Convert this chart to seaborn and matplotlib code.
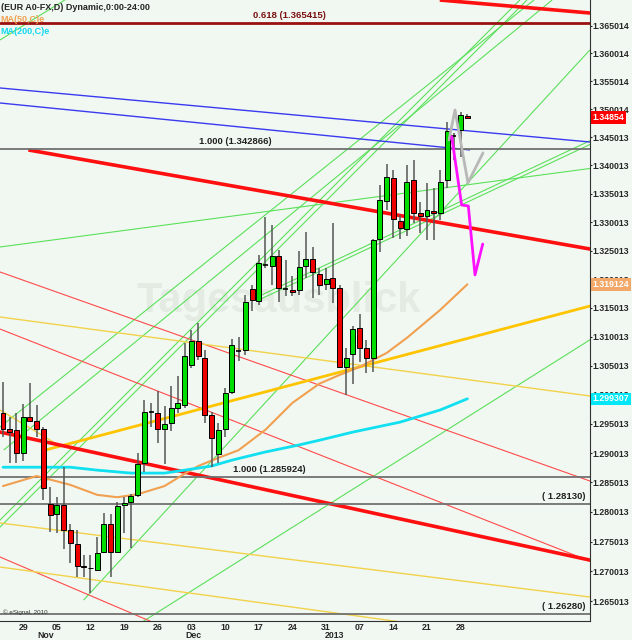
import numpy as np
import pandas as pd
import seaborn as sns
import matplotlib.pyplot as plt
from matplotlib.ticker import FixedLocator, FixedFormatter, NullLocator

# EUR A0-FX daily bars, 24 Oct 2012 .. 29 Jan 2013
dates = pd.bdate_range('2012-10-24', periods=70)

opens = [1.2969, 1.2941, 1.2940, 1.2901, 1.2961, 1.2955, 1.2941, 1.2813, 1.2796, 1.2812,
         1.2770, 1.2746, 1.2709, 1.2706, 1.2703, 1.2732, 1.2779, 1.2733, 1.2812, 1.2817,
         1.2828, 1.2884, 1.2970, 1.2969, 1.2942, 1.2952, 1.2977, 1.2982, 1.3051, 1.3093,
         1.3064, 1.2965, 1.2898, 1.2942, 1.3005, 1.3075, 1.3077, 1.3183, 1.3162, 1.3225,
         1.3223, 1.3241, 1.3183, 1.3181, 1.3181, 1.3224, 1.3235, 1.3209, 1.3192, 1.3203,
         1.3185, 1.3048, 1.3070, 1.3115, 1.3080, 1.3064, 1.3271, 1.3337, 1.3378, 1.3303,
         1.3288, 1.3374, 1.3316, 1.3311, 1.3320, 1.3317, 1.3374, 1.3452, 1.3464, 1.3488]
highs = [1.3022, 1.2962, 1.2968, 1.2984, 1.3020, 1.2982, 1.2945, 1.2842, 1.2826, 1.2877,
         1.2780, 1.2770, 1.2727, 1.2727, 1.2758, 1.2798, 1.2796, 1.2817, 1.2826, 1.2830,
         1.2900, 1.2991, 1.2985, 1.3007, 1.2981, 1.3015, 1.3032, 1.3090, 1.3112, 1.3124,
         1.3078, 1.2971, 1.2951, 1.3011, 1.3097, 1.3100, 1.3173, 1.3190, 1.3242, 1.3309,
         1.3295, 1.3251, 1.3234, 1.3206, 1.3250, 1.3283, 1.3256, 1.3220, 1.3220, 1.3299,
         1.3190, 1.3080, 1.3119, 1.3139, 1.3094, 1.3270, 1.3366, 1.3403, 1.3392, 1.3313,
         1.3401, 1.3409, 1.3336, 1.3369, 1.3360, 1.3392, 1.3478, 1.3457, 1.3496, 1.3492]
lows = [1.2928, 1.2884, 1.2884, 1.2887, 1.2954, 1.2928, 1.2821, 1.2767, 1.2764, 1.2737,
        1.2714, 1.2691, 1.2691, 1.2664, 1.2702, 1.2730, 1.2691, 1.2732, 1.2764, 1.2739,
        1.2826, 1.2868, 1.2945, 1.2917, 1.2881, 1.2937, 1.2968, 1.2977, 1.3046, 1.3060,
        1.2951, 1.2877, 1.2883, 1.2928, 1.3002, 1.3058, 1.3069, 1.3144, 1.3155, 1.3220,
        1.3190, 1.3161, 1.3171, 1.3171, 1.3173, 1.3202, 1.3167, 1.3173, 1.3181, 1.3158,
        1.3046, 1.2999, 1.3018, 1.3057, 1.3038, 1.3040, 1.3248, 1.3322, 1.3272, 1.3270,
        1.3275, 1.3299, 1.3281, 1.3269, 1.3269, 1.3304, 1.3360, 1.3410, 1.3416, 1.3484]
closes = [1.2942, 1.2936, 1.2900, 1.2961, 1.2955, 1.2941, 1.2841, 1.2795, 1.2812, 1.2770,
          1.2747, 1.2709, 1.2708, 1.2705, 1.2731, 1.2779, 1.2733, 1.2810, 1.2816, 1.2827,
          1.2881, 1.2970, 1.2970, 1.2941, 1.2950, 1.2977, 1.2985, 1.3067, 1.3092, 1.3066,
          1.2965, 1.2925, 1.2940, 1.3003, 1.3086, 1.3075, 1.3160, 1.3164, 1.3228, 1.3225,
          1.3241, 1.3184, 1.3183, 1.3178, 1.3222, 1.3235, 1.3213, 1.3190, 1.3201, 1.3184,
          1.3047, 1.3064, 1.3113, 1.3081, 1.3064, 1.3269, 1.3339, 1.3380, 1.3305, 1.3289,
          1.3371, 1.3317, 1.3311, 1.3322, 1.3316, 1.3371, 1.3461, 1.3452, 1.3490, 1.3485]

# moving averages read at some bars (bar index, value)
ma50_idx = [0, 5, 10, 14, 17, 20, 24, 27, 29, 32, 35, 39, 43, 47, 50, 53, 57, 60, 65, 69]
ma50_val = [1.2844, 1.2861, 1.2846, 1.2829, 1.2825, 1.2830, 1.2844, 1.2865, 1.2878, 1.2892,
            1.2905, 1.2940, 1.2986, 1.3019, 1.3034, 1.3048, 1.3072, 1.3098, 1.3147, 1.319124]
ma200_idx = [0, 5, 10, 14, 19, 24, 27, 31, 34, 39, 44, 47, 52, 59, 65, 69]
ma200_val = [1.2876, 1.2876, 1.2876, 1.2871, 1.2866, 1.2866, 1.2871, 1.2878, 1.2888, 1.2902,
             1.2914, 1.2922, 1.2936, 1.2953, 1.2974, 1.299307]

# drawn trend lines: (bar0, price0, bar1, price1)
red_thick = [(64.9, 1.36966, 150.7, 1.36064), (3.77, 1.34277, 88.05, 1.32512),
             (-22.36, 1.29909, 114.56, 1.26518)]
red_thin = [(-11.41, 1.31639, 101.9, 1.26518), (-9.66, 1.32512, 95.2, 1.28202),
            (-2.88, 1.27358, 31.92, 1.25684)]
green_lines = [(11.98, 1.26518, 87.2, 1.36064), (-12.33, 1.26518, 76.8, 1.36966),
               (-11.29, 1.26518, 77.86, 1.36966), (36.85, 1.31639, 100.1, 1.35167),
               (38.0, 1.31639, 101.3, 1.35167), (-3.8, 1.32512, 107.9, 1.34277),
               (-2.87, 1.36064, 21.25, 1.37875), (-4.72, 1.29053, 78.9, 1.36966),
               (0.1, 1.29053, 81.6, 1.36966), (14.06, 1.25684, 96.6, 1.31639)]
blue_lines = [(-62.1, 1.36064, 100.1, 1.34277), (-4.9, 1.35167, 69.4, 1.34277)]
gold_thick = [(6.3, 1.29053, 90.6, 1.31639)]
gold_thin = [(-19.3, 1.31639, 91.7, 1.29909), (-0.45, 1.29738, 8.47, 1.29121),
             (-27.6, 1.28202, 90.8, 1.26518), (-18.9, 1.27358, 89.6, 1.25684)]

# projections drawn by the analyst
gray_proj_x = [66.27, 67.16, 69.09, 71.32]
gray_proj_y = [1.34455, 1.34989, 1.33693, 1.34224]
pink_proj_x = [66.67, 68.15, 69.14, 70.13, 71.28]
pink_proj_y = [1.34514, 1.33303, 1.33286, 1.32076, 1.32617]

# horizontal levels
levels = [1.365415, 1.342866, 1.285924, 1.28130, 1.26280]
level_text = ['0.618 (1.365415)', '1.000 (1.342866)', '1.000 (1.285924)', '( 1.28130)', '( 1.26280)']

ytick_vals = [1.365014, 1.360014, 1.355014, 1.350014, 1.345013, 1.340013, 1.335013, 1.330013,
              1.325013, 1.320013, 1.315013, 1.310013, 1.305013, 1.300013, 1.295013, 1.290013,
              1.285013, 1.280013, 1.275013, 1.270013, 1.265013]

bg = '#F1F8F1'
sns.set_style('white', {'axes.facecolor': bg, 'figure.facecolor': bg})
plt.rcParams['font.family'] = ['Liberation Sans', 'DejaVu Sans']

fig = plt.figure(figsize=(6.32, 6.40), dpi=100)
ax = fig.add_axes([0, 19 / 640, 590 / 632, 621 / 640])
ax.set_facecolor(bg)

x = np.arange(len(dates))
o = np.array(opens); c = np.array(closes)

# watermark
ax.text(41, 1.3162, 'Tagesausblick', fontsize=30, fontweight='bold', color='#E3EBE3',
        ha='center', va='center', zorder=0)

def draw_lines(lines, color, lw, z=1):
    for x0, p0, x1, p1 in lines:
        ax.plot([x0, x1], [p0, p1], color=color, lw=lw, zorder=z, solid_capstyle='butt')

draw_lines(green_lines, '#5BE05B', 0.8)
draw_lines(red_thin, '#FF4A4A', 0.8)
draw_lines(gold_thin, '#F2D24A', 1.0)
draw_lines(blue_lines, '#3A3AF0', 1.0)
draw_lines(gold_thick, '#FFC400', 2.0)
draw_lines(red_thick, '#FF1010', 2.6)

for lv, lt in zip(levels, level_text):
    if lt.startswith('0.618'):
        ax.axhline(lv, color='#9A1010', lw=2, zorder=1)
        ax.text(42.6, lv * 1.0004, lt, ha='center', va='bottom', fontsize=6.8, color='#7A1010', fontweight='bold')
    else:
        ax.axhline(lv, color='#707070', lw=1.3, zorder=1)
        if lt.startswith('1.000'):
            xpos = 34.5 if lv > 1.3 else 39.5
            ax.text(xpos, lv * 1.0004, lt, ha='center', va='bottom', fontsize=6.8, color='#202020', fontweight='bold')
        else:
            ax.text(86.5, lv * 1.0004, lt, ha='right', va='bottom', fontsize=6.8, color='#202020', fontweight='bold')

# moving averages
sns.lineplot(x=ma50_idx, y=ma50_val, color='#F0A050', lw=1.5, ax=ax, zorder=2)
sns.lineplot(x=ma200_idx, y=ma200_val, color='#10E0F0', lw=2, ax=ax, zorder=2)

# candles
ax.vlines(x, lows, highs, color='#555555', lw=1.1, zorder=3)
up = c > o
down = c < o
flat = c == o
ax.bar(x[up], (c - o)[up], bottom=o[up], width=0.74, color='#00DD00', edgecolor='black', lw=0.7, zorder=4)
ax.bar(x[down], (o - c)[down], bottom=c[down], width=0.74, color='#EE0000', edgecolor='black', lw=0.7, zorder=4)
ax.hlines(c[flat], x[flat] - 0.37, x[flat] + 0.37, color='black', lw=1.2, zorder=4)

ax.plot(gray_proj_x, gray_proj_y, color='#B8B8B8', lw=2, zorder=5)
ax.plot(pink_proj_x, pink_proj_y, color='#FF10FF', lw=2, zorder=5)

ax.set_yscale('log')
ax.set_ylim(1.26168, 1.369661)
ax.set_xlim(-0.446, 87.22)
ax.yaxis.set_major_locator(FixedLocator(ytick_vals))
ax.yaxis.set_major_formatter(FixedFormatter(['%.6f' % v for v in ytick_vals]))
ax.yaxis.set_minor_locator(NullLocator())
ax.yaxis.tick_right()
ax.tick_params(axis='y', length=1.5, pad=0.5, labelsize=6.3, width=0.8)
for t in ax.get_yticklabels():
    t.set_fontweight('bold')

mondays = [i for i, d in enumerate(dates) if d.weekday() == 0]
ax.set_xticks(mondays)
ax.set_xticklabels([dates[i].strftime('%d') for i in mondays], fontsize=6.3, fontweight='bold')
ax.tick_params(axis='x', length=0, pad=1.5)
month_pos = [6, 28, 49]
month_txt = ['Nov', 'Dec', '2013']
for mp, mt in zip(month_pos, month_txt):
    xf = ax.transData.transform((mp + 0.3, 1.3))[0] / fig.bbox.width
    fig.text(xf, 1 - 635 / 640, mt, ha='center', va='center', fontsize=6.3, fontweight='bold')

for s in ['top', 'left']:
    ax.spines[s].set_visible(False)
ax.spines['right'].set_color('#303030')
ax.spines['bottom'].set_color('#303030')

# value boxes at the right
for val, txt, col in [(1.34854, '1.34854', '#FF0000'), (1.319124, '1.319124', '#F2A868'),
                      (1.299307, '1.299307', '#00E8F8')]:
    ax.text(1.004, val, txt, transform=ax.get_yaxis_transform(), ha='left', va='center',
            fontsize=6.3, fontweight='bold', color='white', clip_on=False, zorder=10,
            bbox=dict(boxstyle='square,pad=0.2', fc=col, ec='none'))

fig.text(0.001, 1 - 7 / 640, '(EUR A0-FX,D) Dynamic,0:00-24:00', fontsize=6.5, fontweight='bold', va='center')
fig.text(0.001, 1 - 20 / 640, 'MA(50,C)e', fontsize=6.5, fontweight='bold', color='#F0A050', va='center')
fig.text(0.001, 1 - 32 / 640, 'MA(200,C)e', fontsize=6.5, fontweight='bold', color='#10D8F0', va='center')
fig.text(0.004, 1 - 612 / 640, '\u00a9 eSignal, 2010', fontsize=4.5, color='#303030', va='center')

fig.savefig('out.png', dpi=100, facecolor=bg)
